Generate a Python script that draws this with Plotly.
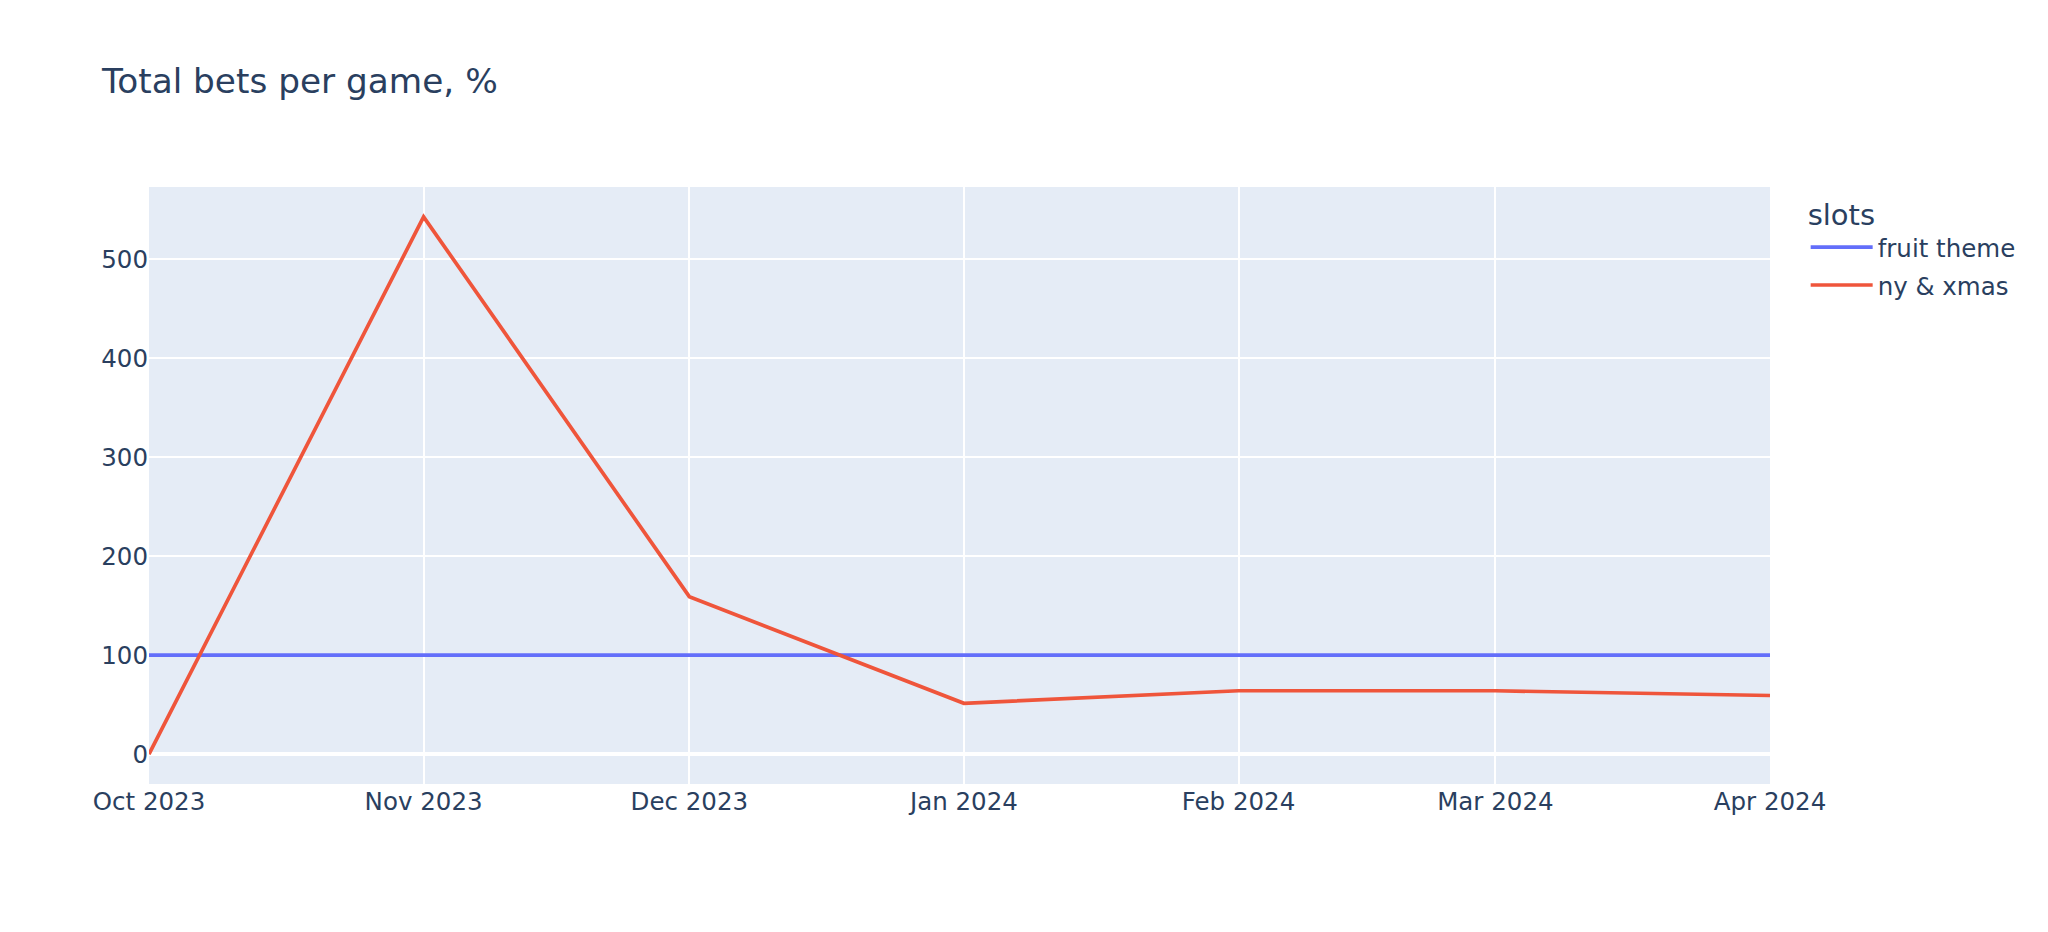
import plotly.graph_objects as go

months = ["2023-10-01", "2023-11-01", "2023-12-01", "2024-01-01",
          "2024-02-01", "2024-03-01", "2024-04-01"]
fruit_theme = [100, 100, 100, 100, 100, 100, 100]
ny_xmas = [0, 542.5, 159, 51.3, 64.0, 64.0, 59.2]

FONT = "DejaVu Sans"

fig = go.Figure()
fig.add_trace(go.Scatter(x=months, y=fruit_theme, mode="lines", name="fruit theme",
                         legendgroup="a",
                         line=dict(color="#636efa", width=3.7)))
fig.add_trace(go.Scatter(x=months, y=ny_xmas, mode="lines", name="ny & xmas",
                         legendgroup="b",
                         line=dict(color="#EF553B", width=3.7)))

fig.update_layout(
    template="plotly",
    title=dict(text="Total bets per game, %", font=dict(size=34.3, family=FONT),
               x=0.0463, xanchor="left", y=0.92, yanchor="middle"),
    font=dict(size=24.5, family=FONT),
    legend=dict(title=dict(text="slots", font=dict(size=29)),
                font=dict(size=24.5), tracegroupgap=3, itemwidth=62, x=1.022),
    margin=dict(l=141, r=270, t=179, b=140, autoexpand=False),
)
fig.update_xaxes(gridwidth=2, tickformat="%b %Y", dtick="M1",
                 range=[months[0], months[-1]])
fig.update_yaxes(gridwidth=2, zerolinewidth=4, dtick=100)

fig.write_html("out.html")
